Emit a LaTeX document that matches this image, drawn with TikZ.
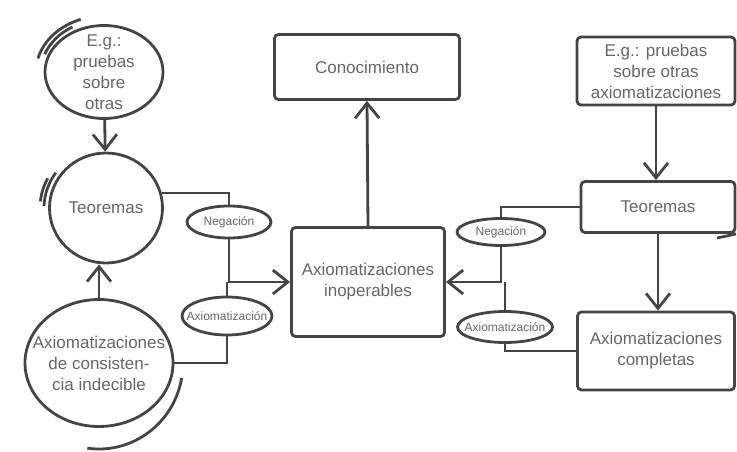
\documentclass[tikz,border=0pt]{standalone}
\usepackage{fontspec}
\setmainfont{Liberation Sans}
\usetikzlibrary{shapes.geometric,arrows.meta}
\definecolor{tinta}{HTML}{444444}
\definecolor{letra}{HTML}{666666}

\begin{document}
\begin{tikzpicture}[x=1pt,y=-1pt,
    every node/.style={font=\fontsize{17}{21}\selectfont, text=letra, align=center},
    caja/.style={draw=tinta, line width=2.8pt, rounded corners=4pt, inner sep=0pt},
    burbuja/.style={draw=tinta, line width=2.8pt, ellipse, inner sep=-20pt},
    etiq/.style={draw=tinta, line width=2.8pt, ellipse, inner xsep=-12pt, inner ysep=0pt,
                 font=\fontsize{12}{14}\selectfont},
    linea/.style={draw=tinta, line width=2.8pt},
    flecha/.style={linea, -{Straight Barb[length=15pt,width=24pt]}}]
    \useasboundingbox (0,0) rectangle (737,452);
    \node[burbuja, minimum width=118pt, minimum height=93pt] (ejemploI) at (104,72) {E.g.:\\pruebas\\sobre\\otras};
    \node[burbuja, minimum width=113pt, minimum height=110pt] (teoremasI) at (106,208) {Teoremas};
    \node[burbuja, minimum width=148pt, minimum height=127pt] (indecible) at (99,363) {Axiomatizaciones\\de consisten-\\cia indecible};
    \node[etiq, minimum width=84pt, minimum height=32pt] (negI) at (229,222) {Negación};
    \node[etiq, minimum width=90pt, minimum height=38pt] (axI) at (227,316) {Axiomatización};
    \node[caja, minimum width=153pt, minimum height=109pt] (inoperables) at (368,282) {Axiomatizaciones\\inoperables};
    \node[caja, minimum width=185pt, minimum height=65pt] (conocimiento) at (367,67) {Conocimiento};
    \node[caja, minimum width=158pt, minimum height=68pt] (ejemploD) at (656,71) {E.g.: pruebas\\sobre otras\\axiomatizaciones};
    \node[caja, minimum width=154pt, minimum height=51pt] (teoremasD) at (658,207) {Teoremas};
    \node[caja, minimum width=157pt, minimum height=78pt] (completas) at (656,351) {Axiomatizaciones\\completas};
    \node[etiq, minimum width=88pt, minimum height=27pt] (negD) at (501,232) {Negación};
    \node[etiq, minimum width=95pt, minimum height=31pt] (axD) at (505,327) {Axiomatización};
    \draw[flecha] (ejemploI) -- (teoremasI);
    \draw[flecha] (indecible.north) -- (indecible.north |- teoremasI.south);
    \draw[linea] (teoremasI.15) -| (negI.north);
    \draw[flecha] (negI.south) |- (inoperables.west);
    \draw[linea] (axI.north) -- (axI.north |- inoperables.west);
    \draw[linea] (axI.south) |- (indecible.east);
    \draw[flecha] (inoperables.north) -- (conocimiento.south);
    \draw[flecha] (ejemploD.south) -- (ejemploD.south |- teoremasD.north);
    \draw[flecha] (teoremasD.south) -- (teoremasD.south |- completas.north);
    \draw[linea] (teoremasD.west) -| (negD.north);
    \draw[flecha] (negD.south) |- (inoperables.east);
    \draw[linea] (axD.north) -- (axD.north |- inoperables.east);
    \draw[linea] (axD.south) |- (completas.west);
    \draw[linea] (104,72) ++(194:68 and 56) arc[start angle=194, end angle=250, x radius=68, y radius=56];
    \draw[linea] (104,72) ++(200:63 and 52) arc[start angle=200, end angle=240, x radius=63, y radius=52];
    \draw[linea] (106,208) ++(182:62 and 60) arc[start angle=182, end angle=216, x radius=62, y radius=60];
    \draw[linea] (106,208) ++(186:66 and 63) arc[start angle=186, end angle=208, x radius=66, y radius=63];
    \draw[linea] (99,363) ++(10:84 and 86) arc[start angle=10, end angle=98, x radius=84, y radius=86];
    \draw[linea] (717,238) -- (736,234);
\end{tikzpicture}
\end{document}
